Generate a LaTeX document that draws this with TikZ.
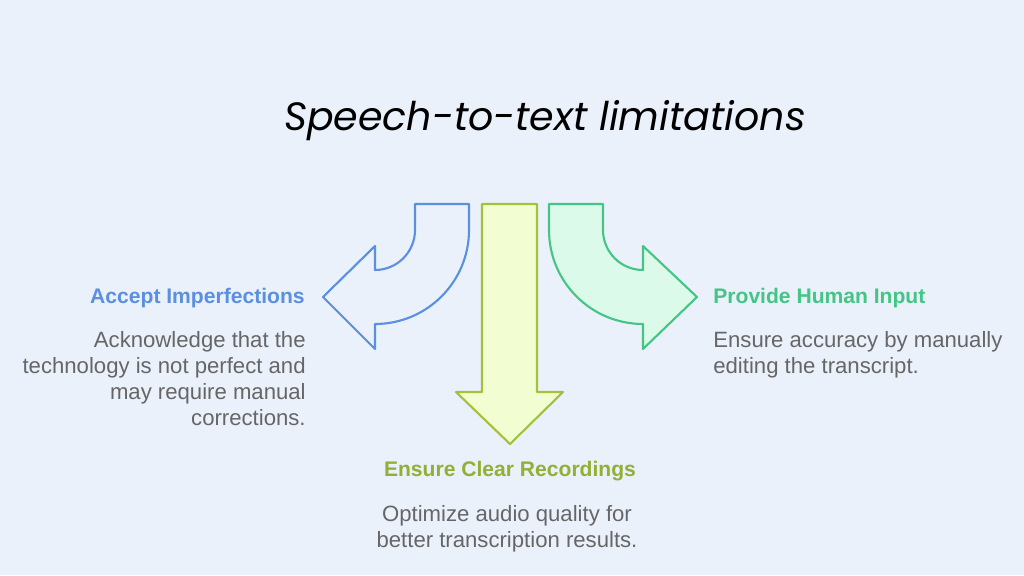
\documentclass[tikz,border=0pt]{standalone}
\usepackage{fontspec}
\setmainfont{Liberation Sans}
\newfontfamily\titlefont{Poppins}
\definecolor{bg}{HTML}{EAF1FB}
\definecolor{bl}{HTML}{5B8FE0}
\definecolor{gr}{HTML}{45C585}
\definecolor{grf}{HTML}{DCFAEA}
\definecolor{yl}{HTML}{A3C23A}
\definecolor{ylf}{HTML}{F3FDD2}
\definecolor{tx}{HTML}{666666}
\tikzset{
 hd/.style={font=\bfseries\fontsize{12pt}{14pt}\selectfont, inner sep=0},
 bd/.style={font=\fontsize{12.6pt}{14.8pt}\selectfont, text=tx, inner sep=0},
 arr/.style={line width=1.2pt, line join=round}
}
\begin{document}
\begin{tikzpicture}[x=0.02cm,y=-0.02cm]
\fill[bg] (0,0) rectangle (1024,575);
\useasboundingbox (0,0) rectangle (1024,575);
\node[font=\titlefont\itshape\fontsize{22.5pt}{26pt}\selectfont] (title) at (545,121) {Speech-to-text limitations};
% left arrow
\draw[arr,bl,fill=bg] (415,204) -- (469,204) -- (469,230) arc[start angle=0,end angle=90,radius=94] -- (375,349) -- (323,297) -- (375,246) -- (375,270) arc[start angle=90,end angle=0,radius=40] -- cycle;
% middle arrow
\draw[arr,yl,fill=ylf] (482,204) -- (537,204) -- (537,392) -- (563,392) -- (510,444) -- (456,392) -- (482,392) -- cycle;
% right arrow
\draw[arr,gr,fill=grf] (549,204) -- (603,204) -- (603,230) arc[start angle=180,end angle=90,radius=40] -- (643,246) -- (697,297) -- (643,349) -- (643,324) arc[start angle=90,end angle=180,radius=94] -- cycle;
\node[hd,text=bl,anchor=east] (h1) at (305,298) {Accept Imperfections};
\node[bd,anchor=north east,align=right] (b1) at (306,331) {Acknowledge that the\\technology is not perfect and\\may require manual\\corrections.};
\node[hd,text=gr,anchor=west] (h3) at (713,298) {Provide Human Input};
\node[bd,anchor=north west,align=left] (b3) at (713,331) {Ensure accuracy by manually\\editing the transcript.};
\node[hd,text=yl!90!black,anchor=center] (h2) at (510,471) {Ensure Clear Recordings};
\node[bd,anchor=north,align=center] (b2) at (507,505) {Optimize audio quality for\\better transcription results.};
\end{tikzpicture}
\end{document}
